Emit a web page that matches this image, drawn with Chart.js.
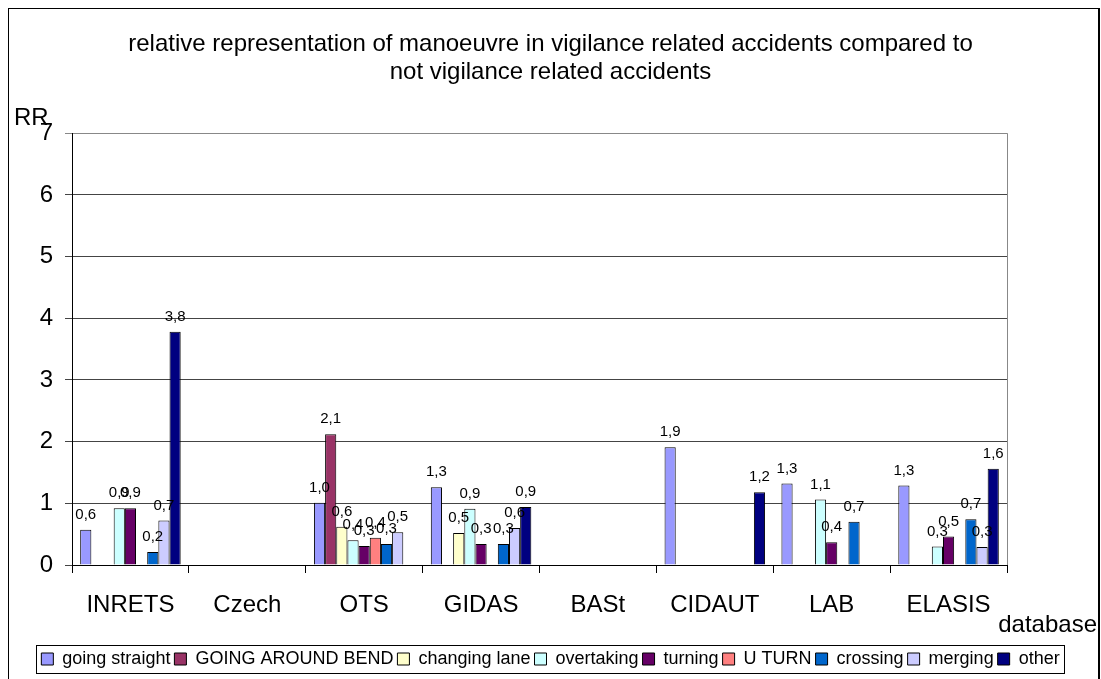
<!DOCTYPE html>
<html>
<head>
<meta charset="utf-8">
<script src="https://cdn.jsdelivr.net/npm/chart.js@4"></script>
<style>
  html, body { margin: 0; padding: 0; background: #fff; overflow: hidden; }
  #moldura { position: absolute; left: 8px; top: 8px; width: 1089px; height: 700px; border: 1px solid #000; border-right-width: 2px; }
  #grafico { position: absolute; left: 0; top: 0; }
</style>
</head>
<body>
<div id="moldura"></div>
<canvas id="grafico" width="1101" height="679"></canvas>
<script>
const categorias = ['INRETS', 'Czech', 'OTS', 'GIDAS', 'BASt', 'CIDAUT', 'LAB', 'ELASIS'];

const goingStraight = [0.57, null, 1.01, 1.26, null, 1.91, 1.32, 1.29];
const goingAroundBend = [null, null, 2.12, null, null, null, null, null];
const changingLane = [null, null, 0.62, 0.52, null, null, null, null];
const overtaking = [0.92, null, 0.40, 0.91, null, null, 1.06, 0.30];
const turning = [0.92, null, 0.31, 0.34, null, null, 0.37, 0.46];
const uTurn = [null, null, 0.44, null, null, null, null, null];
const crossing = [0.21, null, 0.34, 0.34, null, null, 0.70, 0.74];
const merging = [0.72, null, 0.53, 0.60, null, null, null, 0.29];
const other = [3.78, null, null, 0.94, null, 1.18, null, 1.56];

const series = ['going straight', 'GOING AROUND BEND', 'changing lane', 'overtaking', 'turning', 'U TURN', 'crossing', 'merging', 'other'];
const cores = ['#9999FF', '#993366', '#FFFFCC', '#CCFFFF', '#660066', '#FF8080', '#0066CC', '#CCCCFF', '#000080'];
const valores = [goingStraight, goingAroundBend, changingLane, overtaking, turning, uTurn, crossing, merging, other];

const fonte = '"Liberation Sans", Arial, sans-serif';

function rotulo(v) {
    return v.toFixed(1).replace('.', ',');
}

const extras = {
    id: 'extras',
    beforeDatasetsDraw(chart) {
        const ctx = chart.ctx;
        const a = chart.chartArea;
        ctx.save();
        ctx.strokeStyle = '#888';
        ctx.lineWidth = 1;
        ctx.beginPath();
        ctx.moveTo(a.right + 0.5, a.top);
        ctx.lineTo(a.right + 0.5, a.bottom);
        ctx.stroke();
        ctx.restore();
    },
    afterDatasetsDraw(chart) {
        const ctx = chart.ctx;
        ctx.save();
        ctx.font = '15px ' + fonte;
        ctx.fillStyle = '#000';
        ctx.textAlign = 'center';
        ctx.textBaseline = 'middle';
        chart.data.datasets.forEach((ds, i) => {
            chart.getDatasetMeta(i).data.forEach((bar, j) => {
                const v = ds.data[j];
                if (v === null) return;
                ctx.fillText(rotulo(v), bar.x, bar.y - 15);
            });
        });
        ctx.restore();
    },
    afterDraw(chart) {
        const ctx = chart.ctx;
        ctx.save();
        ctx.font = '24px ' + fonte;
        ctx.fillStyle = '#000';
        ctx.textBaseline = 'middle';
        ctx.textAlign = 'left';
        ctx.fillText('RR', 14, 118);
        ctx.textAlign = 'right';
        ctx.fillText('database', 1097, 625);

        // moldura da legenda
        const caixas = chart.legend.legendHitBoxes;
        if (caixas.length) {
            const x0 = Math.min(...caixas.map(c => c.left)) - 5;
            const x1 = Math.max(...caixas.map(c => c.left + c.width)) + 5;
            const y0 = caixas[0].top - 5;
            const y1 = caixas[0].top + caixas[0].height + 5;
            ctx.strokeStyle = '#000';
            ctx.lineWidth = 1;
            ctx.strokeRect(Math.round(x0) + 0.5, Math.round(y0) + 0.5, Math.round(x1 - x0), Math.round(y1 - y0));
        }
        ctx.restore();
    }
};

const dataset = {
    labels: categorias,
    datasets: series.map((nome, i) => ({
        label: nome,
        data: valores[i],
        backgroundColor: cores[i],
        borderColor: '#000',
        borderWidth: 1,
        barPercentage: 1,
        categoryPercentage: 0.86
    }))
};

new Chart(document.getElementById('grafico').getContext('2d'), {
    type: 'bar',
    data: dataset,
    plugins: [extras],
    options: {
        responsive: false,
        animation: false,
        layout: { padding: { left: 0, right: 0, top: 0, bottom: 1 } },
        plugins: {
            tooltip: { enabled: false },
            title: {
                display: true,
                text: ['relative representation of manoeuvre in vigilance related accidents compared to', 'not vigilance related accidents'],
                color: '#000',
                font: { family: fonte, size: 24, weight: 'normal', lineHeight: 1.15 },
                padding: { top: 31, bottom: 47 }
            },
            legend: {
                position: 'bottom',
                labels: {
                    color: '#000',
                    font: { family: fonte, size: 18 },
                    boxWidth: 12,
                    boxHeight: 12,
                    padding: 4
                }
            }
        },
        scales: {
            x: {
                offset: true,
                grid: { offset: true, drawOnChartArea: false, tickLength: 8, color: '#000' },
                border: { color: '#000' },
                ticks: { color: '#000', font: { family: fonte, size: 24 }, padding: 18, maxRotation: 0 },
                afterFit(s) { s.height = 81; }
            },
            y: {
                min: 0,
                max: 7,
                ticks: { stepSize: 1, color: '#000', font: { family: fonte, size: 24 }, padding: 12 },
                grid: { color: ctx => ctx.tick && ctx.tick.value === 7 ? '#888' : '#444', tickLength: 7 },
                border: { color: '#000' },
                afterFit(s) { s.width = 72; }
            },
            yR: {
                type: 'linear',
                position: 'right',
                display: true,
                grid: { display: false },
                ticks: { display: false },
                border: { display: false },
                afterFit(s) { s.width = 94; }
            }
        }
    }
});
</script>
</body>
</html>
